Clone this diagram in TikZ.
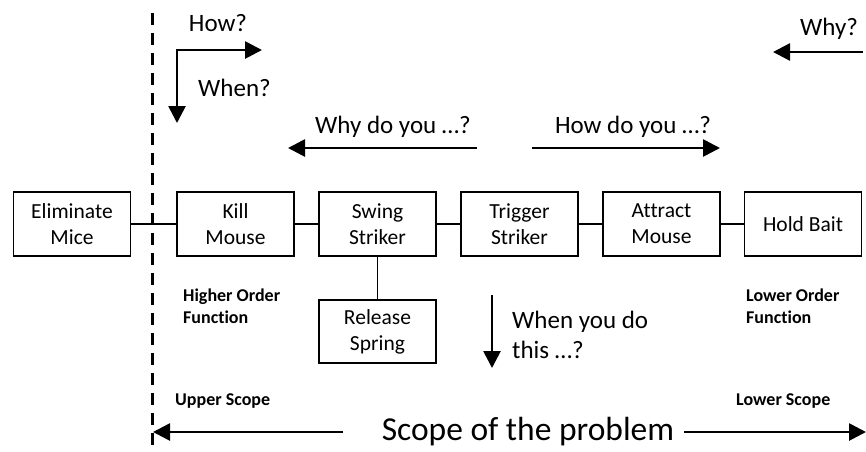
\documentclass[tikz,border=0pt]{standalone}
\usepackage{fontspec}
\setmainfont[Ligatures=NoCommon]{Carlito}
\usetikzlibrary{arrows.meta}
\begin{document}
\begin{tikzpicture}[x=1pt,y=-1pt,
  fbox/.style={draw, line width=1.2pt, minimum width=117pt, minimum height=64pt,
    inner sep=0pt, align=center, font=\fontsize{21.5}{26}\selectfont},
  link/.style={line width=1.2pt},
  bigarrow/.style={line width=2.7pt, -{Triangle[length=17pt,width=17pt]}},
  qlabel/.style={inner sep=0pt, font=\fontsize{25}{30}\selectfont},
  note/.style={inner sep=0pt, align=left, font=\bfseries\fontsize{18}{22}\selectfont},
  scopeline/.style={line width=3pt, dash pattern=on 12pt off 8pt}]
\useasboundingbox (0,0) rectangle (866,451);

% function chain
\node[fbox] (elim) at (72,224) {Eliminate\\Mice};
\node[fbox] (kill) at (235.5,224) {Kill\\Mouse};
\node[fbox] (swing) at (377.5,224) {Swing\\Striker};
\node[fbox] (trig) at (519.5,224) {Trigger\\Striker};
\node[fbox] (attr) at (661.5,224) {Attract\\Mouse};
\node[fbox] (bait) at (803,224) {Hold Bait};
\node[fbox, minimum height=63pt] (rel) at (377.5,331.5) {Release\\Spring};

\draw[link] (elim) -- (kill);
\draw[link] (kill) -- (swing);
\draw[link] (swing) -- (trig);
\draw[link] (trig) -- (attr);
\draw[link] (attr) -- (bait);
\draw[link] (swing) -- (rel);

% scope boundary
\coordinate (bt) at (152,13);
\coordinate (bb) at (152,451);
\draw[scopeline] (bt) -- (bb);

% How? / When? corner arrows
\coordinate (corner) at (177,50);
\coordinate (howtip) at (262,50);
\coordinate (whentip) at (177,123);
\draw[line width=2.7pt, line join=miter,
  {Triangle[length=17pt,width=17pt]}-{Triangle[length=17pt,width=17pt]}]
  (whentip) -- (corner) -- (howtip);
\node[qlabel] (how) at (218,23) {How?};
\node[qlabel] (when) at (234.5,88) {When?};

% Why?
\coordinate (whys) at (863,52);
\coordinate (whye) at (773,52);
\draw[bigarrow] (whys) -- (whye);
\node[qlabel] (why) at (829,29) {Why?};

% Why do you / How do you
\coordinate (wdys) at (477,148);
\coordinate (wdye) at (288,148);
\draw[bigarrow] (wdys) -- (wdye);
\node[qlabel] (wdy) at (393,127) {Why do you …?};
\coordinate (hdys) at (532,148);
\coordinate (hdye) at (720,148);
\draw[bigarrow] (hdys) -- (hdye);
\node[qlabel] (hdy) at (633,127) {How do you …?};

% When you do this
\coordinate (wyds) at (492,295);
\coordinate (wyde) at (492,368);
\draw[bigarrow] (wyds) -- (wyde);
\node[qlabel, anchor=west, align=left] (wyd) at (512,335) {When you do\\this …?};

% order labels
\node[note, anchor=west] (hof) at (183,306) {Higher Order\\Function};
\node[note, anchor=west] (lof) at (746,306) {Lower Order\\Function};
\node[note, anchor=west] (us) at (175,401) {Upper Scope};
\node[note, anchor=west] (ls) at (736,401) {Lower Scope};

% scope of the problem
\node[inner sep=0pt, font=\fontsize{33.5}{40}\selectfont] (scope) at (528,432) {Scope of the problem};
\coordinate (sl) at (343,432);
\coordinate (slt) at (153,432);
\coordinate (sr) at (684,432);
\coordinate (srt) at (866,432);
\draw[bigarrow] (sl) -- (slt);
\draw[bigarrow] (sr) -- (srt);
\end{tikzpicture}
\end{document}
